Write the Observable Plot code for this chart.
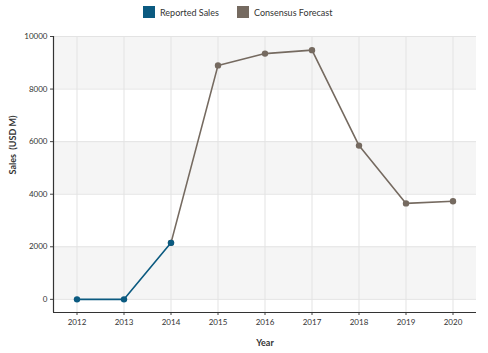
<!DOCTYPE html>
<html><head><meta charset="utf-8">
<script src="https://cdn.jsdelivr.net/npm/d3@7"></script>
<script src="https://cdn.jsdelivr.net/npm/@observablehq/plot@0.6"></script>
<style>
body{margin:0;background:#fff;font-family:Lato,"Open Sans",sans-serif;}
#legend{height:22px;position:relative;font-size:9px;color:#333;}
.item{position:absolute;top:6px;display:flex;align-items:center;}
.sw{width:12px;height:12px;margin-right:5px;}
</style></head>
<body>
<div id="legend"></div>
<div id="chart"></div>
<script>
const years = [2012,2013,2014,2015,2016,2017,2018,2019,2020];
const reportedYears = [2012,2013,2014];
const reportedValues = [0,0,2150];
const forecastYears = [2014,2015,2016,2017,2018,2019,2020];
const forecastValues = [2150,8900,9350,9480,5850,3650,3730];
const yTicks = [0,2000,4000,6000,8000,10000];
const bandStarts = [0,4000,8000];
const seriesNames = ["Reported Sales","Consensus Forecast"];
const seriesColors = ["#0b5a80","#756a60"];

const reported = reportedYears.map((y,i)=>({year:y,value:reportedValues[i]}));
const forecast = forecastYears.map((y,i)=>({year:y,value:forecastValues[i]}));
const xDomain = [years[0]-0.5, years[years.length-1]+0.5];

// legend
const leg = document.getElementById("legend");
const legX = [143,237];
seriesNames.forEach((n,i)=>{
  const d=document.createElement("div");d.className="item";d.style.left=legX[i]+"px";
  d.innerHTML=`<div class="sw" style="background:${seriesColors[i]}"></div><span>${n}</span>`;
  leg.appendChild(d);
});

const chart = Plot.plot({
  width:488, height:331,
  marginTop:14, marginBottom:41, marginLeft:53, marginRight:12,
  style:{fontFamily:"Lato, 'Open Sans', sans-serif", fontSize:"8px", color:"#333", background:"#fff"},
  x:{domain:xDomain, ticks:years, tickFormat:d=>String(d), label:null, tickSize:3, tickPadding:4},
  y:{domain:[-500,10000], ticks:yTicks, tickFormat:d=>String(d), label:null, tickSize:3, tickPadding:3},
  marks:[
    Plot.rect(bandStarts,{x1:xDomain[0],x2:xDomain[1],y1:d=>d,y2:d=>d+2000,fill:"#f5f5f5"}),
    Plot.gridY(yTicks,{stroke:"#e3e3e3",strokeOpacity:1,strokeWidth:1}),
    Plot.gridX(years,{stroke:"#e3e3e3",strokeOpacity:1,strokeWidth:1}),
    Plot.axisY({ticks:yTicks,tickFormat:d=>String(d),tickSize:3,tickPadding:3,label:null,stroke:"#444"}),
    Plot.axisX({ticks:years,tickFormat:d=>String(d),tickSize:3,tickPadding:4,label:null,stroke:"#444"}),
    Plot.ruleX([xDomain[0]],{stroke:"#333",strokeWidth:1.2}),
    Plot.ruleY([-500],{stroke:"#333",strokeWidth:1.2}),
    Plot.line(forecast,{x:"year",y:"value",stroke:seriesColors[1],strokeWidth:1.6}),
    Plot.dot(forecast,{x:"year",y:"value",fill:seriesColors[1],r:3.2}),
    Plot.line(reported,{x:"year",y:"value",stroke:seriesColors[0],strokeWidth:1.6}),
    Plot.dot(reported,{x:"year",y:"value",fill:seriesColors[0],r:3.2}),
    Plot.text(["Year"],{frameAnchor:"bottom",dy:33,text:d=>d,fontWeight:"bold",fontSize:9,fill:"#333"}),
    Plot.text(["Sales  (USD M)"],{frameAnchor:"left",dx:-40,rotate:-90,text:d=>d,fontWeight:"bold",fontSize:9,fill:"#333"})
  ]
});
document.getElementById("chart").appendChild(chart);
</script>
</body></html>
